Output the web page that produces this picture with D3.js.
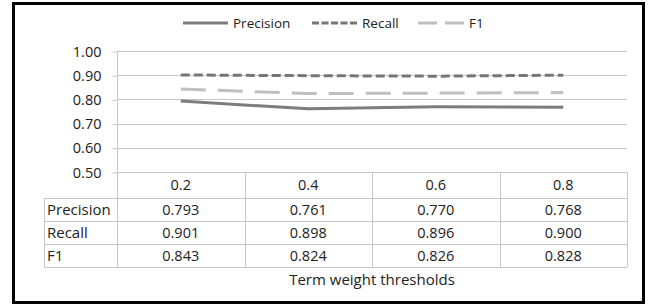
<html>
<head>
<script src="https://d3js.org/d3.v7.min.js"></script>
<style>
  body { margin: 0; background: #fff; }
  text { font-family: "Open Sans", sans-serif; fill: #222; }
</style>
</head>
<body>
<svg class="chart" width="650" height="307"></svg>
<script>
var thresholds = ["0.2", "0.4", "0.6", "0.8"];
var precision = [0.793, 0.761, 0.770, 0.768];
var recall = [0.901, 0.898, 0.896, 0.900];
var f1 = [0.843, 0.824, 0.826, 0.828];
var yTicks = [0.5, 0.6, 0.7, 0.8, 0.9, 1.0];

var series = [
  { name: "Precision", values: precision, color: "#7d7d7d", dash: null },
  { name: "Recall", values: recall, color: "#767676", dash: "9,4" },
  { name: "F1", values: f1, color: "#bfbfbf", dash: "25,12" }
];

var svg = d3.select("svg");

// outer frame
svg.append("rect")
  .attr("x", 13.5).attr("y", 3.5)
  .attr("width", 630).attr("height", 299)
  .attr("fill", "none").attr("stroke", "#000").attr("stroke-width", 3);

var left = 117, right = 627;
var x = d3.scaleBand().domain(thresholds).range([left, right]);
var y = d3.scaleLinear().domain([0.5, 1.0]).range([172, 51]);

// gridlines
svg.append("g").selectAll("line")
  .data(yTicks)
  .enter().append("line")
  .attr("x1", left).attr("x2", right)
  .attr("y1", d => Math.round(y(d)) + 0.5)
  .attr("y2", d => Math.round(y(d)) + 0.5)
  .attr("stroke", "#c6c6c6");

var yAxis = d3.axisLeft(y).tickValues(yTicks).tickFormat(d3.format(".2f")).tickSize(5).tickPadding(11);
var ya = svg.append("g").attr("transform", "translate(" + (left + 0.5) + ",0.5)").call(yAxis);
ya.select(".domain").attr("stroke", "#c6c6c6").attr("d", "M0," + y(1.0) + "V" + y(0.5));
ya.selectAll(".tick line").attr("stroke", "#c6c6c6");
ya.selectAll(".tick text").style("font-size", "14.5px").attr("fill", "#222");

// lines
var line = d3.line()
  .x((d, i) => x(thresholds[i]) + x.bandwidth() / 2)
  .y(d => y(d));

series.forEach(function (s) {
  svg.append("path")
    .datum(s.values)
    .attr("d", line)
    .attr("fill", "none")
    .attr("stroke", s.color)
    .attr("stroke-width", 3)
    .attr("stroke-dasharray", s.dash);
});

// data table
var rowTop = 172, headH = 26, rowH = 23, labelLeft = 44;
var tbl = svg.append("g").attr("stroke", "#c6c6c6").attr("fill", "none");
var tableBottom = rowTop + headH + rowH * series.length;
// horizontal rules
tbl.append("line").attr("x1", left).attr("x2", right).attr("y1", rowTop + 0.5).attr("y2", rowTop + 0.5);
series.forEach(function (s, i) {
  var yy = Math.round(rowTop + headH + rowH * i) + 0.5;
  tbl.append("line").attr("x1", labelLeft).attr("x2", right).attr("y1", yy).attr("y2", yy);
});
tbl.append("line").attr("x1", labelLeft).attr("x2", right)
  .attr("y1", Math.round(tableBottom) + 0.5).attr("y2", Math.round(tableBottom) + 0.5);
// vertical rules
tbl.append("line").attr("x1", labelLeft + 0.5).attr("x2", labelLeft + 0.5)
  .attr("y1", rowTop + headH).attr("y2", tableBottom);
thresholds.forEach(function (t) {
  var xx = Math.round(x(t)) + 0.5;
  tbl.append("line").attr("x1", xx).attr("x2", xx).attr("y1", rowTop).attr("y2", tableBottom);
});
tbl.append("line").attr("x1", right + 0.5).attr("x2", right + 0.5).attr("y1", rowTop).attr("y2", tableBottom);

// header cells
svg.append("g").selectAll("text")
  .data(thresholds)
  .enter().append("text")
  .attr("x", d => x(d) + x.bandwidth() / 2)
  .attr("y", rowTop + headH / 2 + 5)
  .attr("text-anchor", "middle")
  .style("font-size", "14.5px")
  .text(d => d);

series.forEach(function (s, i) {
  var cy = rowTop + headH + rowH * i + rowH / 2 + 5;
  svg.append("text")
    .attr("x", labelLeft + 3).attr("y", cy)
    .style("font-size", "15px")
    .text(s.name);
  svg.append("g").selectAll("text")
    .data(s.values)
    .enter().append("text")
    .attr("x", (d, j) => x(thresholds[j]) + x.bandwidth() / 2)
    .attr("y", cy)
    .attr("text-anchor", "middle")
    .style("font-size", "14.5px")
    .text(d => d3.format(".3f")(d));
});

// axis title
svg.append("text")
  .attr("x", (left + right) / 2).attr("y", 285)
  .attr("text-anchor", "middle")
  .style("font-size", "15px")
  .text("Term weight thresholds");

// legend
var legendX = [183, 312, 418];
var lg = svg.append("g").selectAll("g")
  .data(series)
  .enter().append("g")
  .attr("transform", (d, i) => "translate(" + legendX[i] + ",23)");
lg.append("line")
  .attr("x1", 0).attr("x2", (d, i) => i === 2 ? 46 : 45)
  .attr("y1", 0).attr("y2", 0)
  .attr("stroke", d => d.color)
  .attr("stroke-width", 3)
  .attr("stroke-dasharray", d => d.name === "Recall" ? "7,2.5" : (d.name === "F1" ? "19,8" : null));
lg.append("text")
  .attr("x", (d, i) => i === 2 ? 51 : 50)
  .attr("y", 5)
  .style("font-size", "13.5px")
  .text(d => d.name);
</script>
</body>
</html>
